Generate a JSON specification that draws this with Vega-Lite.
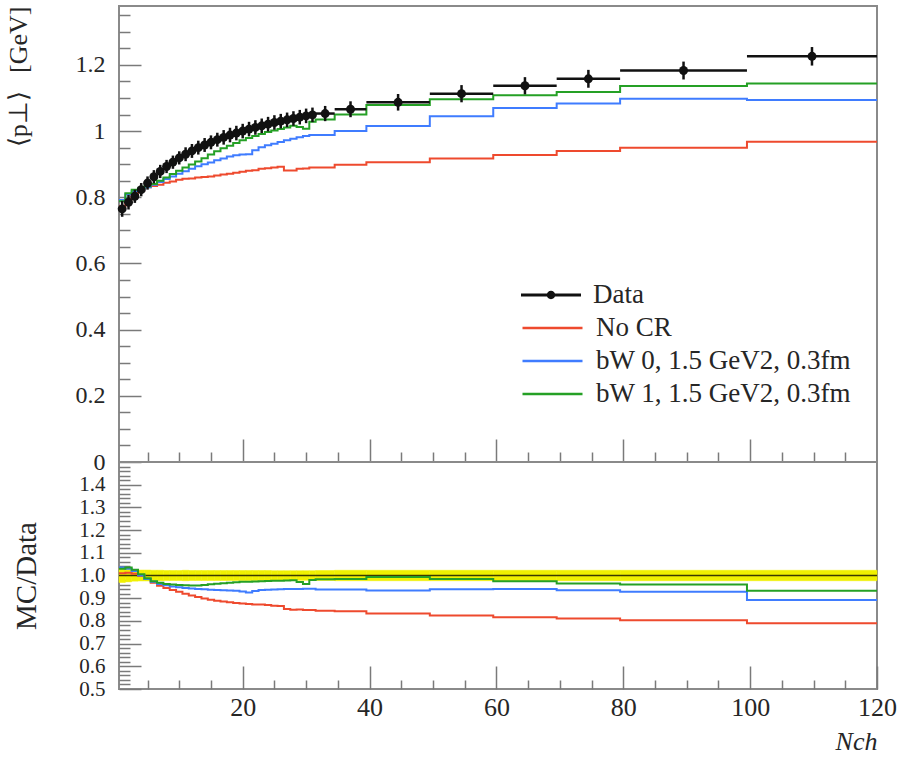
{
 "$schema": "https://vega.github.io/schema/vega-lite/v6.json",
 "padding": {"left": 3, "top": 5, "right": 0, "bottom": 3},
 "datasets": {
  "d": [
   {"c":1,"lo":0.5,"hi":1.5,"v":0.765,"elo":0.741,"ehi":0.789,"blo":0.969,"bhi":1.031},
   {"c":2,"lo":1.5,"hi":2.5,"v":0.785,"elo":0.763,"ehi":0.807,"blo":0.972,"bhi":1.028},
   {"c":3,"lo":2.5,"hi":3.5,"v":0.803,"elo":0.783,"ehi":0.823,"blo":0.975,"bhi":1.025},
   {"c":4,"lo":3.5,"hi":4.5,"v":0.823,"elo":0.803,"ehi":0.843,"blo":0.976,"bhi":1.024},
   {"c":5,"lo":4.5,"hi":5.5,"v":0.843,"elo":0.823,"ehi":0.863,"blo":0.976,"bhi":1.024},
   {"c":6,"lo":5.5,"hi":6.5,"v":0.862,"elo":0.842,"ehi":0.882,"blo":0.977,"bhi":1.023},
   {"c":7,"lo":6.5,"hi":7.5,"v":0.878,"elo":0.858,"ehi":0.898,"blo":0.977,"bhi":1.023},
   {"c":8,"lo":7.5,"hi":8.5,"v":0.893,"elo":0.873,"ehi":0.913,"blo":0.978,"bhi":1.022},
   {"c":9,"lo":8.5,"hi":9.5,"v":0.906,"elo":0.886,"ehi":0.926,"blo":0.978,"bhi":1.022},
   {"c":10,"lo":9.5,"hi":10.5,"v":0.919,"elo":0.899,"ehi":0.939,"blo":0.978,"bhi":1.022},
   {"c":11,"lo":10.5,"hi":11.5,"v":0.930,"elo":0.909,"ehi":0.951,"blo":0.977,"bhi":1.023},
   {"c":12,"lo":11.5,"hi":12.5,"v":0.940,"elo":0.919,"ehi":0.961,"blo":0.978,"bhi":1.022},
   {"c":13,"lo":12.5,"hi":13.5,"v":0.950,"elo":0.929,"ehi":0.971,"blo":0.978,"bhi":1.022},
   {"c":14,"lo":13.5,"hi":14.5,"v":0.958,"elo":0.937,"ehi":0.979,"blo":0.978,"bhi":1.022},
   {"c":15,"lo":14.5,"hi":15.5,"v":0.966,"elo":0.945,"ehi":0.987,"blo":0.978,"bhi":1.022},
   {"c":16,"lo":15.5,"hi":16.5,"v":0.974,"elo":0.953,"ehi":0.995,"blo":0.978,"bhi":1.022},
   {"c":17,"lo":16.5,"hi":17.5,"v":0.981,"elo":0.959,"ehi":1.003,"blo":0.978,"bhi":1.022},
   {"c":18,"lo":17.5,"hi":18.5,"v":0.988,"elo":0.966,"ehi":1.010,"blo":0.978,"bhi":1.022},
   {"c":19,"lo":18.5,"hi":19.5,"v":0.994,"elo":0.972,"ehi":1.016,"blo":0.978,"bhi":1.022},
   {"c":20,"lo":19.5,"hi":20.5,"v":1.000,"elo":0.978,"ehi":1.022,"blo":0.978,"bhi":1.022},
   {"c":21,"lo":20.5,"hi":21.5,"v":1.006,"elo":0.984,"ehi":1.028,"blo":0.978,"bhi":1.022},
   {"c":22,"lo":21.5,"hi":22.5,"v":1.011,"elo":0.989,"ehi":1.033,"blo":0.978,"bhi":1.022},
   {"c":23,"lo":22.5,"hi":23.5,"v":1.016,"elo":0.994,"ehi":1.038,"blo":0.978,"bhi":1.022},
   {"c":24,"lo":23.5,"hi":24.5,"v":1.021,"elo":0.999,"ehi":1.043,"blo":0.978,"bhi":1.022},
   {"c":25,"lo":24.5,"hi":25.5,"v":1.026,"elo":1.004,"ehi":1.048,"blo":0.979,"bhi":1.021},
   {"c":26,"lo":25.5,"hi":26.5,"v":1.030,"elo":1.008,"ehi":1.052,"blo":0.979,"bhi":1.021},
   {"c":27,"lo":26.5,"hi":27.5,"v":1.034,"elo":1.012,"ehi":1.056,"blo":0.979,"bhi":1.021},
   {"c":28,"lo":27.5,"hi":28.5,"v":1.038,"elo":1.016,"ehi":1.060,"blo":0.979,"bhi":1.021},
   {"c":29,"lo":28.5,"hi":29.5,"v":1.042,"elo":1.020,"ehi":1.064,"blo":0.979,"bhi":1.021},
   {"c":30,"lo":29.5,"hi":30.5,"v":1.046,"elo":1.024,"ehi":1.068,"blo":0.979,"bhi":1.021},
   {"c":31,"lo":30.5,"hi":31.5,"v":1.049,"elo":1.027,"ehi":1.071,"blo":0.979,"bhi":1.021},
   {"c":33,"lo":31.5,"hi":34.5,"v":1.053,"elo":1.030,"ehi":1.076,"blo":0.978,"bhi":1.022},
   {"c":37,"lo":34.5,"hi":39.5,"v":1.066,"elo":1.042,"ehi":1.090,"blo":0.977,"bhi":1.023},
   {"c":44.5,"lo":39.5,"hi":49.5,"v":1.087,"elo":1.062,"ehi":1.112,"blo":0.977,"bhi":1.023},
   {"c":54.5,"lo":49.5,"hi":59.5,"v":1.113,"elo":1.087,"ehi":1.139,"blo":0.977,"bhi":1.023},
   {"c":64.5,"lo":59.5,"hi":69.5,"v":1.137,"elo":1.111,"ehi":1.163,"blo":0.977,"bhi":1.023},
   {"c":74.5,"lo":69.5,"hi":79.5,"v":1.158,"elo":1.131,"ehi":1.185,"blo":0.977,"bhi":1.023},
   {"c":89.5,"lo":79.5,"hi":99.5,"v":1.183,"elo":1.156,"ehi":1.210,"blo":0.977,"bhi":1.023},
   {"c":109.75,"lo":99.5,"hi":120,"v":1.226,"elo":1.198,"ehi":1.254,"blo":0.977,"bhi":1.023}
  ],
  "mc": [
   {"s":"No CR","x":0.5,"v":0.773,"r":1.010},{"s":"No CR","x":1.5,"v":0.794,"r":1.012},{"s":"No CR","x":2.5,"v":0.809,"r":1.008},{"s":"No CR","x":3.5,"v":0.821,"r":0.998},{"s":"No CR","x":4.5,"v":0.830,"r":0.985},{"s":"No CR","x":5.5,"v":0.834,"r":0.968},{"s":"No CR","x":6.5,"v":0.838,"r":0.955},{"s":"No CR","x":7.5,"v":0.844,"r":0.945},{"s":"No CR","x":8.5,"v":0.848,"r":0.936},{"s":"No CR","x":9.5,"v":0.853,"r":0.928},{"s":"No CR","x":10.5,"v":0.856,"r":0.920},{"s":"No CR","x":11.5,"v":0.857,"r":0.912},{"s":"No CR","x":12.5,"v":0.860,"r":0.905},{"s":"No CR","x":13.5,"v":0.861,"r":0.899},{"s":"No CR","x":14.5,"v":0.863,"r":0.893},{"s":"No CR","x":15.5,"v":0.866,"r":0.889},{"s":"No CR","x":16.5,"v":0.869,"r":0.886},{"s":"No CR","x":17.5,"v":0.871,"r":0.882},{"s":"No CR","x":18.5,"v":0.874,"r":0.879},{"s":"No CR","x":19.5,"v":0.877,"r":0.877},{"s":"No CR","x":20.5,"v":0.880,"r":0.875},{"s":"No CR","x":21.5,"v":0.882,"r":0.872},{"s":"No CR","x":22.5,"v":0.886,"r":0.872},{"s":"No CR","x":23.5,"v":0.888,"r":0.870},{"s":"No CR","x":24.5,"v":0.890,"r":0.867},{"s":"No CR","x":25.5,"v":0.892,"r":0.866},{"s":"No CR","x":26.5,"v":0.881,"r":0.852},{"s":"No CR","x":27.5,"v":0.881,"r":0.849},{"s":"No CR","x":28.5,"v":0.886,"r":0.850},{"s":"No CR","x":29.5,"v":0.887,"r":0.848},{"s":"No CR","x":30.5,"v":0.890,"r":0.848},{"s":"No CR","x":31.5,"v":0.890,"r":0.845},{"s":"No CR","x":34.5,"v":0.898,"r":0.842},{"s":"No CR","x":39.5,"v":0.906,"r":0.833},{"s":"No CR","x":49.5,"v":0.9175,"r":0.824},{"s":"No CR","x":59.5,"v":0.9275,"r":0.816},{"s":"No CR","x":69.5,"v":0.940,"r":0.811},{"s":"No CR","x":79.5,"v":0.950,"r":0.803},{"s":"No CR","x":99.5,"v":0.968,"r":0.790},{"s":"No CR","x":120,"v":0.968,"r":0.790},
   {"s":"bW 0, 1.5 GeV2, 0.3fm","x":0.5,"v":0.792,"r":1.035},{"s":"bW 0, 1.5 GeV2, 0.3fm","x":1.5,"v":0.809,"r":1.030},{"s":"bW 0, 1.5 GeV2, 0.3fm","x":2.5,"v":0.819,"r":1.020},{"s":"bW 0, 1.5 GeV2, 0.3fm","x":3.5,"v":0.823,"r":1.000},{"s":"bW 0, 1.5 GeV2, 0.3fm","x":4.5,"v":0.830,"r":0.985},{"s":"bW 0, 1.5 GeV2, 0.3fm","x":5.5,"v":0.838,"r":0.972},{"s":"bW 0, 1.5 GeV2, 0.3fm","x":6.5,"v":0.846,"r":0.963},{"s":"bW 0, 1.5 GeV2, 0.3fm","x":7.5,"v":0.855,"r":0.957},{"s":"bW 0, 1.5 GeV2, 0.3fm","x":8.5,"v":0.863,"r":0.952},{"s":"bW 0, 1.5 GeV2, 0.3fm","x":9.5,"v":0.871,"r":0.948},{"s":"bW 0, 1.5 GeV2, 0.3fm","x":10.5,"v":0.879,"r":0.945},{"s":"bW 0, 1.5 GeV2, 0.3fm","x":11.5,"v":0.886,"r":0.943},{"s":"bW 0, 1.5 GeV2, 0.3fm","x":12.5,"v":0.894,"r":0.941},{"s":"bW 0, 1.5 GeV2, 0.3fm","x":13.5,"v":0.900,"r":0.939},{"s":"bW 0, 1.5 GeV2, 0.3fm","x":14.5,"v":0.905,"r":0.937},{"s":"bW 0, 1.5 GeV2, 0.3fm","x":15.5,"v":0.912,"r":0.936},{"s":"bW 0, 1.5 GeV2, 0.3fm","x":16.5,"v":0.917,"r":0.935},{"s":"bW 0, 1.5 GeV2, 0.3fm","x":17.5,"v":0.923,"r":0.934},{"s":"bW 0, 1.5 GeV2, 0.3fm","x":18.5,"v":0.927,"r":0.933},{"s":"bW 0, 1.5 GeV2, 0.3fm","x":19.5,"v":0.929,"r":0.929},{"s":"bW 0, 1.5 GeV2, 0.3fm","x":20.5,"v":0.930,"r":0.925},{"s":"bW 0, 1.5 GeV2, 0.3fm","x":21.5,"v":0.942,"r":0.932},{"s":"bW 0, 1.5 GeV2, 0.3fm","x":22.5,"v":0.951,"r":0.936},{"s":"bW 0, 1.5 GeV2, 0.3fm","x":23.5,"v":0.957,"r":0.937},{"s":"bW 0, 1.5 GeV2, 0.3fm","x":24.5,"v":0.962,"r":0.938},{"s":"bW 0, 1.5 GeV2, 0.3fm","x":25.5,"v":0.967,"r":0.939},{"s":"bW 0, 1.5 GeV2, 0.3fm","x":26.5,"v":0.972,"r":0.940},{"s":"bW 0, 1.5 GeV2, 0.3fm","x":27.5,"v":0.977,"r":0.941},{"s":"bW 0, 1.5 GeV2, 0.3fm","x":28.5,"v":0.981,"r":0.941},{"s":"bW 0, 1.5 GeV2, 0.3fm","x":29.5,"v":0.985,"r":0.942},{"s":"bW 0, 1.5 GeV2, 0.3fm","x":30.5,"v":0.988,"r":0.942},{"s":"bW 0, 1.5 GeV2, 0.3fm","x":31.5,"v":0.988,"r":0.938},{"s":"bW 0, 1.5 GeV2, 0.3fm","x":34.5,"v":1.000,"r":0.938},{"s":"bW 0, 1.5 GeV2, 0.3fm","x":39.5,"v":1.015,"r":0.934},{"s":"bW 0, 1.5 GeV2, 0.3fm","x":49.5,"v":1.045,"r":0.939},{"s":"bW 0, 1.5 GeV2, 0.3fm","x":59.5,"v":1.070,"r":0.941},{"s":"bW 0, 1.5 GeV2, 0.3fm","x":69.5,"v":1.083,"r":0.935},{"s":"bW 0, 1.5 GeV2, 0.3fm","x":79.5,"v":1.0975,"r":0.928},{"s":"bW 0, 1.5 GeV2, 0.3fm","x":99.5,"v":1.094,"r":0.892},{"s":"bW 0, 1.5 GeV2, 0.3fm","x":120,"v":1.094,"r":0.892},
   {"s":"bW 1, 1.5 GeV2, 0.3fm","x":0.5,"v":0.788,"r":1.030},{"s":"bW 1, 1.5 GeV2, 0.3fm","x":1.5,"v":0.812,"r":1.035},{"s":"bW 1, 1.5 GeV2, 0.3fm","x":2.5,"v":0.823,"r":1.025},{"s":"bW 1, 1.5 GeV2, 0.3fm","x":3.5,"v":0.827,"r":1.005},{"s":"bW 1, 1.5 GeV2, 0.3fm","x":4.5,"v":0.833,"r":0.988},{"s":"bW 1, 1.5 GeV2, 0.3fm","x":5.5,"v":0.840,"r":0.975},{"s":"bW 1, 1.5 GeV2, 0.3fm","x":6.5,"v":0.850,"r":0.968},{"s":"bW 1, 1.5 GeV2, 0.3fm","x":7.5,"v":0.860,"r":0.963},{"s":"bW 1, 1.5 GeV2, 0.3fm","x":8.5,"v":0.870,"r":0.960},{"s":"bW 1, 1.5 GeV2, 0.3fm","x":9.5,"v":0.880,"r":0.958},{"s":"bW 1, 1.5 GeV2, 0.3fm","x":10.5,"v":0.890,"r":0.957},{"s":"bW 1, 1.5 GeV2, 0.3fm","x":11.5,"v":0.899,"r":0.956},{"s":"bW 1, 1.5 GeV2, 0.3fm","x":12.5,"v":0.908,"r":0.956},{"s":"bW 1, 1.5 GeV2, 0.3fm","x":13.5,"v":0.918,"r":0.958},{"s":"bW 1, 1.5 GeV2, 0.3fm","x":14.5,"v":0.929,"r":0.962},{"s":"bW 1, 1.5 GeV2, 0.3fm","x":15.5,"v":0.939,"r":0.964},{"s":"bW 1, 1.5 GeV2, 0.3fm","x":16.5,"v":0.948,"r":0.966},{"s":"bW 1, 1.5 GeV2, 0.3fm","x":17.5,"v":0.956,"r":0.968},{"s":"bW 1, 1.5 GeV2, 0.3fm","x":18.5,"v":0.964,"r":0.970},{"s":"bW 1, 1.5 GeV2, 0.3fm","x":19.5,"v":0.972,"r":0.972},{"s":"bW 1, 1.5 GeV2, 0.3fm","x":20.5,"v":0.979,"r":0.973},{"s":"bW 1, 1.5 GeV2, 0.3fm","x":21.5,"v":0.985,"r":0.974},{"s":"bW 1, 1.5 GeV2, 0.3fm","x":22.5,"v":0.991,"r":0.975},{"s":"bW 1, 1.5 GeV2, 0.3fm","x":23.5,"v":0.997,"r":0.976},{"s":"bW 1, 1.5 GeV2, 0.3fm","x":24.5,"v":1.002,"r":0.977},{"s":"bW 1, 1.5 GeV2, 0.3fm","x":25.5,"v":1.006,"r":0.977},{"s":"bW 1, 1.5 GeV2, 0.3fm","x":26.5,"v":1.011,"r":0.978},{"s":"bW 1, 1.5 GeV2, 0.3fm","x":27.5,"v":1.016,"r":0.979},{"s":"bW 1, 1.5 GeV2, 0.3fm","x":28.5,"v":1.012,"r":0.971},{"s":"bW 1, 1.5 GeV2, 0.3fm","x":29.5,"v":1.007,"r":0.963},{"s":"bW 1, 1.5 GeV2, 0.3fm","x":30.5,"v":1.028,"r":0.980},{"s":"bW 1, 1.5 GeV2, 0.3fm","x":31.5,"v":1.035,"r":0.983},{"s":"bW 1, 1.5 GeV2, 0.3fm","x":34.5,"v":1.050,"r":0.985},{"s":"bW 1, 1.5 GeV2, 0.3fm","x":39.5,"v":1.079,"r":0.993},{"s":"bW 1, 1.5 GeV2, 0.3fm","x":49.5,"v":1.096,"r":0.985},{"s":"bW 1, 1.5 GeV2, 0.3fm","x":59.5,"v":1.108,"r":0.975},{"s":"bW 1, 1.5 GeV2, 0.3fm","x":69.5,"v":1.118,"r":0.965},{"s":"bW 1, 1.5 GeV2, 0.3fm","x":79.5,"v":1.136,"r":0.960},{"s":"bW 1, 1.5 GeV2, 0.3fm","x":99.5,"v":1.144,"r":0.933},{"s":"bW 1, 1.5 GeV2, 0.3fm","x":120,"v":1.144,"r":0.933}
  ]
 },
 "config": {
  "font": "Liberation Serif",
  "view": {"stroke": "#8a8a8a", "strokeWidth": 2},
  "axis": {"domain": false, "grid": false, "tickColor": "#7a7a7a", "tickWidth": 1.5, "labelFont": "Liberation Serif", "labelFontSize": 26, "labelColor": "#262626", "titleFont": "Liberation Serif", "titleFontSize": 29, "titleFontWeight": "normal", "titleColor": "#262626", "labelOverlap": false, "labelFlush": false},
  "legend": {"labelFont": "Liberation Serif", "labelFontSize": 27, "labelColor": "#262626", "padding": 0, "rowPadding": 0, "clipHeight": 33, "labelOffset": 12, "labelLimit": 0}
 },
 "spacing": 0,
 "bounds": "flush",
 "resolve": {"scale": {"color": "independent"}, "legend": {"color": "independent"}},
 "vconcat": [
  {
   "width": 758, "height": 456,
   "layer": [
    {"data": {"name": "mc"}, "mark": {"type": "line", "interpolate": "step-after", "strokeWidth": 2},
     "encoding": {
      "x": {"field": "x", "type": "quantitative", "scale": {"domain": [0.5, 120], "nice": false, "zero": false},
            "axis": {"orient": "bottom", "values": [20, 40, 60, 80, 100], "tickSize": -23, "labels": false, "title": null}},
      "y": {"field": "v", "type": "quantitative", "scale": {"domain": [0, 1.378], "nice": false, "zero": false},
            "axis": {"orient": "left", "values": [0, 0.2, 0.4, 0.6, 0.8, 1, 1.2], "labelFontSize": 24, "tickSize": -22, "labelPadding": 36, "format": "~g", "title": "⟨p⊥⟩\u2002\u2009[GeV]", "titleFontSize": 26, "titleAnchor": "end", "titleX": -88, "titleBaseline": "bottom"}},
      "color": {"field": "s", "type": "nominal",
                "scale": {"domain": ["No CR", "bW 0, 1.5 GeV2, 0.3fm", "bW 1, 1.5 GeV2, 0.3fm"], "range": ["#ee4a2e", "#3f7cff", "#25a025"]},
                "legend": {"orient": "none", "legendX": 402, "legendY": 305.5, "title": null, "symbolType": "stroke", "symbolSize": 3600, "symbolStrokeWidth": 2.5}}
     }},
    {"data": {"name": "d"}, "mark": {"type": "rule", "color": "#111111", "strokeWidth": 2.5},
     "encoding": {
      "x": {"field": "lo", "type": "quantitative", "axis": {"orient": "bottom", "values": [5, 10, 15, 25, 30, 35, 45, 50, 55, 65, 70, 75, 85, 90, 95, 105, 110, 115], "tickSize": -10, "labels": false, "title": null}},
      "x2": {"field": "hi"},
      "y": {"field": "v", "type": "quantitative", "axis": {"orient": "left", "values": [0.05, 0.1, 0.15, 0.25, 0.3, 0.35, 0.45, 0.5, 0.55, 0.65, 0.7, 0.75, 0.85, 0.9, 0.95, 1.05, 1.1, 1.15, 1.25, 1.3, 1.35], "tickSize": -11, "labels": false, "title": null}}
     }},
    {"data": {"name": "d"}, "mark": {"type": "rule", "color": "#111111", "strokeWidth": 2.5},
     "encoding": {
      "x": {"field": "c", "type": "quantitative", "axis": null},
      "y": {"field": "elo", "type": "quantitative", "axis": null},
      "y2": {"field": "ehi"}
     }},
    {"data": {"name": "d"}, "mark": {"type": "point", "filled": true, "size": 80, "opacity": 1},
     "encoding": {
      "x": {"field": "c", "type": "quantitative", "axis": null},
      "y": {"field": "v", "type": "quantitative", "axis": null},
      "fill": {"datum": "Data", "type": "nominal", "scale": {"domain": ["Data"], "range": ["#111111"]},
               "legend": {"orient": "none", "legendX": 402, "legendY": 272.5, "title": null, "symbolType": "M-1,-0.05H1V0.05H-1Z M0.14,0A0.14,0.14 0 1,1 -0.14,0A0.14,0.14 0 1,1 0.14,0Z", "symbolSize": 3600, "symbolStrokeWidth": 0}}
     }}
   ],
   "resolve": {"axis": {"x": "independent", "y": "independent"}}
  },
  {
   "width": 758, "height": 227,
   "layer": [
    {"data": {"name": "d"}, "mark": {"type": "rect", "color": "#f0f000", "stroke": "#f0f000", "strokeWidth": 0.5},
     "encoding": {
      "x": {"field": "lo", "type": "quantitative", "scale": {"domain": [0.5, 120], "nice": false, "zero": false},
            "axis": {"orient": "bottom", "values": [20, 40, 60, 80, 100, 120], "tickSize": -23, "labelPadding": 28, "title": "Nch", "titleAnchor": "end", "titleFontStyle": "italic", "titleFontSize": 26, "titleY": 60, "titleBaseline": "alphabetic"}},
      "x2": {"field": "hi"},
      "y": {"field": "blo", "type": "quantitative", "scale": {"domain": [0.5, 1.5], "nice": false, "zero": false},
            "axis": {"orient": "left", "values": [0.5, 0.6, 0.7, 0.8, 0.9, 1.0, 1.1, 1.2, 1.3, 1.4], "format": ".1f", "labelFontSize": 21, "tickSize": -22, "labelPadding": 36, "title": "MC/Data", "titleX": -78, "titleBaseline": "bottom"}},
      "y2": {"field": "bhi"}
     }},
    {"data": {"values": [{}]}, "mark": {"type": "rule", "color": "#3a3a00", "strokeWidth": 1.5},
     "encoding": {"y": {"datum": 1, "type": "quantitative", "axis": null}}},
    {"data": {"name": "mc"}, "mark": {"type": "line", "interpolate": "step-after", "strokeWidth": 2},
     "encoding": {
      "x": {"field": "x", "type": "quantitative", "axis": {"orient": "bottom", "values": [5, 10, 15, 25, 30, 35, 45, 50, 55, 65, 70, 75, 85, 90, 95, 105, 110, 115], "tickSize": -9, "labels": false, "title": null}},
      "y": {"field": "r", "type": "quantitative", "axis": {"orient": "left", "values": [0.52, 0.54, 0.56, 0.58, 0.62, 0.64, 0.66, 0.68, 0.72, 0.74, 0.76, 0.78, 0.82, 0.84, 0.86, 0.88, 0.92, 0.94, 0.96, 0.98, 1.02, 1.04, 1.06, 1.08, 1.12, 1.14, 1.16, 1.18, 1.22, 1.24, 1.26, 1.28, 1.32, 1.34, 1.36, 1.38, 1.42, 1.44, 1.46, 1.48], "tickSize": -11, "labels": false, "title": null}},
      "color": {"field": "s", "type": "nominal",
                "scale": {"domain": ["No CR", "bW 0, 1.5 GeV2, 0.3fm", "bW 1, 1.5 GeV2, 0.3fm"], "range": ["#ee4a2e", "#3f7cff", "#25a025"]},
                "legend": null}
     }}
   ],
   "resolve": {"axis": {"x": "independent", "y": "independent"}}
  }
 ]
}
